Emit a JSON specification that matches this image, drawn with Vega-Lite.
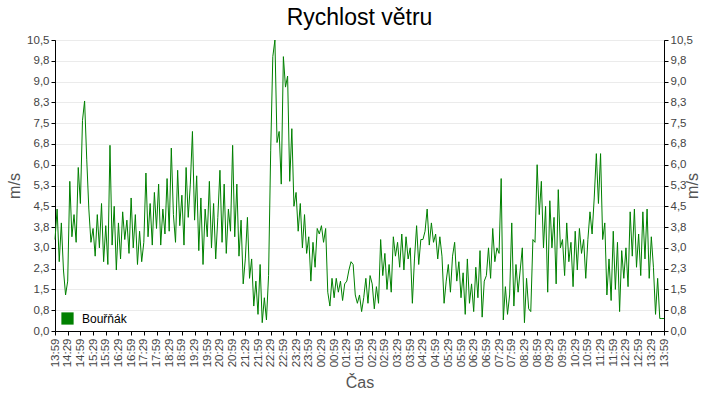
{
  "$schema": "https://vega.github.io/schema/vega-lite/v6.json",
  "description": "Rychlost větru, stanice Bouřňák, 24 hodin",
  "autosize": "none",
  "padding": {"left": 55, "top": 40, "right": 56, "bottom": 69},
  "width": 609,
  "height": 291,
  "title": {
    "text": "Rychlost větru",
    "font": "Liberation Sans",
    "fontSize": 23,
    "fontWeight": "normal",
    "color": "#000",
    "offset": 4
  },
  "data": {
    "values": [
      {"t": "2024-05-01T13:59", "v": 3.3}, {"t": "2024-05-01T14:04", "v": 4.4}, {"t": "2024-05-01T14:09", "v": 2.5}, {"t": "2024-05-01T14:14", "v": 3.9}, {"t": "2024-05-01T14:19", "v": 2.2}, {"t": "2024-05-01T14:24", "v": 1.3},
      {"t": "2024-05-01T14:29", "v": 1.8}, {"t": "2024-05-01T14:34", "v": 5.4}, {"t": "2024-05-01T14:39", "v": 3.4}, {"t": "2024-05-01T14:44", "v": 4.2}, {"t": "2024-05-01T14:49", "v": 3.2}, {"t": "2024-05-01T14:54", "v": 5.9},
      {"t": "2024-05-01T14:59", "v": 4.6}, {"t": "2024-05-01T15:04", "v": 7.6}, {"t": "2024-05-01T15:09", "v": 8.3}, {"t": "2024-05-01T15:14", "v": 6.2}, {"t": "2024-05-01T15:19", "v": 4.4}, {"t": "2024-05-01T15:24", "v": 3.2},
      {"t": "2024-05-01T15:29", "v": 3.7}, {"t": "2024-05-01T15:34", "v": 2.7}, {"t": "2024-05-01T15:39", "v": 4.2}, {"t": "2024-05-01T15:44", "v": 3.0}, {"t": "2024-05-01T15:49", "v": 4.6}, {"t": "2024-05-01T15:54", "v": 2.5},
      {"t": "2024-05-01T15:59", "v": 3.8}, {"t": "2024-05-01T16:04", "v": 2.4}, {"t": "2024-05-01T16:09", "v": 6.7}, {"t": "2024-05-01T16:14", "v": 3.1}, {"t": "2024-05-01T16:19", "v": 4.5}, {"t": "2024-05-01T16:24", "v": 2.2},
      {"t": "2024-05-01T16:29", "v": 3.9}, {"t": "2024-05-01T16:34", "v": 2.6}, {"t": "2024-05-01T16:39", "v": 4.3}, {"t": "2024-05-01T16:44", "v": 3.3}, {"t": "2024-05-01T16:49", "v": 4.0}, {"t": "2024-05-01T16:54", "v": 2.8},
      {"t": "2024-05-01T16:59", "v": 4.8}, {"t": "2024-05-01T17:04", "v": 3.0}, {"t": "2024-05-01T17:09", "v": 4.2}, {"t": "2024-05-01T17:14", "v": 2.4}, {"t": "2024-05-01T17:19", "v": 3.6}, {"t": "2024-05-01T17:24", "v": 2.5},
      {"t": "2024-05-01T17:29", "v": 3.2}, {"t": "2024-05-01T17:34", "v": 5.7}, {"t": "2024-05-01T17:39", "v": 3.4}, {"t": "2024-05-01T17:44", "v": 4.6}, {"t": "2024-05-01T17:49", "v": 3.1}, {"t": "2024-05-01T17:54", "v": 5.0},
      {"t": "2024-05-01T17:59", "v": 3.7}, {"t": "2024-05-01T18:04", "v": 5.3}, {"t": "2024-05-01T18:09", "v": 3.1}, {"t": "2024-05-01T18:14", "v": 4.4}, {"t": "2024-05-01T18:19", "v": 3.5}, {"t": "2024-05-01T18:24", "v": 5.5},
      {"t": "2024-05-01T18:29", "v": 3.6}, {"t": "2024-05-01T18:34", "v": 6.6}, {"t": "2024-05-01T18:39", "v": 4.2}, {"t": "2024-05-01T18:44", "v": 3.2}, {"t": "2024-05-01T18:49", "v": 5.8}, {"t": "2024-05-01T18:54", "v": 3.8},
      {"t": "2024-05-01T18:59", "v": 4.9}, {"t": "2024-05-01T19:04", "v": 3.1}, {"t": "2024-05-01T19:09", "v": 5.9}, {"t": "2024-05-01T19:14", "v": 4.1}, {"t": "2024-05-01T19:19", "v": 5.3}, {"t": "2024-05-01T19:24", "v": 7.2},
      {"t": "2024-05-01T19:29", "v": 4.0}, {"t": "2024-05-01T19:34", "v": 5.6}, {"t": "2024-05-01T19:39", "v": 2.9}, {"t": "2024-05-01T19:44", "v": 4.8}, {"t": "2024-05-01T19:49", "v": 2.4}, {"t": "2024-05-01T19:54", "v": 4.4},
      {"t": "2024-05-01T19:59", "v": 3.4}, {"t": "2024-05-01T20:04", "v": 5.4}, {"t": "2024-05-01T20:09", "v": 3.0}, {"t": "2024-05-01T20:14", "v": 4.6}, {"t": "2024-05-01T20:19", "v": 2.6}, {"t": "2024-05-01T20:24", "v": 4.1},
      {"t": "2024-05-01T20:29", "v": 5.8}, {"t": "2024-05-01T20:34", "v": 3.2}, {"t": "2024-05-01T20:39", "v": 5.3}, {"t": "2024-05-01T20:44", "v": 2.8}, {"t": "2024-05-01T20:49", "v": 4.4}, {"t": "2024-05-01T20:54", "v": 3.6},
      {"t": "2024-05-01T20:59", "v": 6.7}, {"t": "2024-05-01T21:04", "v": 3.4}, {"t": "2024-05-01T21:09", "v": 5.3}, {"t": "2024-05-01T21:14", "v": 2.7}, {"t": "2024-05-01T21:19", "v": 4.0}, {"t": "2024-05-01T21:24", "v": 1.7},
      {"t": "2024-05-01T21:29", "v": 2.6}, {"t": "2024-05-01T21:34", "v": 4.1}, {"t": "2024-05-01T21:39", "v": 1.9}, {"t": "2024-05-01T21:44", "v": 2.6}, {"t": "2024-05-01T21:49", "v": 0.9}, {"t": "2024-05-01T21:54", "v": 1.8},
      {"t": "2024-05-01T21:59", "v": 0.6}, {"t": "2024-05-01T22:04", "v": 2.4}, {"t": "2024-05-01T22:09", "v": 0.3}, {"t": "2024-05-01T22:14", "v": 1.2}, {"t": "2024-05-01T22:19", "v": 0.4}, {"t": "2024-05-01T22:24", "v": 2.0},
      {"t": "2024-05-01T22:29", "v": 6.5}, {"t": "2024-05-01T22:34", "v": 9.9}, {"t": "2024-05-01T22:39", "v": 10.5}, {"t": "2024-05-01T22:44", "v": 6.8}, {"t": "2024-05-01T22:49", "v": 7.2}, {"t": "2024-05-01T22:54", "v": 5.3},
      {"t": "2024-05-01T22:59", "v": 9.9}, {"t": "2024-05-01T23:04", "v": 8.8}, {"t": "2024-05-01T23:09", "v": 9.2}, {"t": "2024-05-01T23:14", "v": 5.4}, {"t": "2024-05-01T23:19", "v": 7.3}, {"t": "2024-05-01T23:24", "v": 4.5},
      {"t": "2024-05-01T23:29", "v": 5.0}, {"t": "2024-05-01T23:34", "v": 3.6}, {"t": "2024-05-01T23:39", "v": 4.6}, {"t": "2024-05-01T23:44", "v": 3.0}, {"t": "2024-05-01T23:49", "v": 4.2}, {"t": "2024-05-01T23:54", "v": 2.8},
      {"t": "2024-05-01T23:59", "v": 3.4}, {"t": "2024-05-02T00:04", "v": 1.8}, {"t": "2024-05-02T00:09", "v": 3.2}, {"t": "2024-05-02T00:14", "v": 2.3}, {"t": "2024-05-02T00:19", "v": 3.7}, {"t": "2024-05-02T00:24", "v": 3.5},
      {"t": "2024-05-02T00:29", "v": 3.8}, {"t": "2024-05-02T00:34", "v": 3.2}, {"t": "2024-05-02T00:39", "v": 3.7}, {"t": "2024-05-02T00:44", "v": 1.4}, {"t": "2024-05-02T00:49", "v": 0.9}, {"t": "2024-05-02T00:54", "v": 1.9},
      {"t": "2024-05-02T00:59", "v": 1.2}, {"t": "2024-05-02T01:04", "v": 1.9}, {"t": "2024-05-02T01:09", "v": 1.4}, {"t": "2024-05-02T01:14", "v": 1.8}, {"t": "2024-05-02T01:19", "v": 1.1}, {"t": "2024-05-02T01:24", "v": 1.7},
      {"t": "2024-05-02T01:29", "v": 1.8}, {"t": "2024-05-02T01:34", "v": 2.2}, {"t": "2024-05-02T01:39", "v": 2.5}, {"t": "2024-05-02T01:44", "v": 2.4}, {"t": "2024-05-02T01:49", "v": 1.3}, {"t": "2024-05-02T01:54", "v": 1.0},
      {"t": "2024-05-02T01:59", "v": 1.3}, {"t": "2024-05-02T02:04", "v": 0.7}, {"t": "2024-05-02T02:09", "v": 1.2}, {"t": "2024-05-02T02:14", "v": 1.9}, {"t": "2024-05-02T02:19", "v": 1.0}, {"t": "2024-05-02T02:24", "v": 2.0},
      {"t": "2024-05-02T02:29", "v": 1.7}, {"t": "2024-05-02T02:34", "v": 0.8}, {"t": "2024-05-02T02:39", "v": 1.6}, {"t": "2024-05-02T02:44", "v": 1.0}, {"t": "2024-05-02T02:49", "v": 3.3}, {"t": "2024-05-02T02:54", "v": 2.0},
      {"t": "2024-05-02T02:59", "v": 2.8}, {"t": "2024-05-02T03:04", "v": 1.5}, {"t": "2024-05-02T03:09", "v": 2.4}, {"t": "2024-05-02T03:14", "v": 1.4}, {"t": "2024-05-02T03:19", "v": 3.4}, {"t": "2024-05-02T03:24", "v": 2.7},
      {"t": "2024-05-02T03:29", "v": 3.2}, {"t": "2024-05-02T03:34", "v": 2.3}, {"t": "2024-05-02T03:39", "v": 3.5}, {"t": "2024-05-02T03:44", "v": 2.2}, {"t": "2024-05-02T03:49", "v": 3.4}, {"t": "2024-05-02T03:54", "v": 2.6},
      {"t": "2024-05-02T03:59", "v": 3.0}, {"t": "2024-05-02T04:04", "v": 1.0}, {"t": "2024-05-02T04:09", "v": 2.6}, {"t": "2024-05-02T04:14", "v": 3.8}, {"t": "2024-05-02T04:19", "v": 2.4}, {"t": "2024-05-02T04:24", "v": 3.3},
      {"t": "2024-05-02T04:29", "v": 3.3}, {"t": "2024-05-02T04:34", "v": 3.6}, {"t": "2024-05-02T04:39", "v": 4.4}, {"t": "2024-05-02T04:44", "v": 3.1}, {"t": "2024-05-02T04:49", "v": 3.9}, {"t": "2024-05-02T04:54", "v": 3.2},
      {"t": "2024-05-02T04:59", "v": 3.5}, {"t": "2024-05-02T05:04", "v": 2.6}, {"t": "2024-05-02T05:09", "v": 3.4}, {"t": "2024-05-02T05:14", "v": 2.7}, {"t": "2024-05-02T05:19", "v": 1.0}, {"t": "2024-05-02T05:24", "v": 1.8},
      {"t": "2024-05-02T05:29", "v": 2.4}, {"t": "2024-05-02T05:34", "v": 1.4}, {"t": "2024-05-02T05:39", "v": 2.7}, {"t": "2024-05-02T05:44", "v": 3.2}, {"t": "2024-05-02T05:49", "v": 1.8}, {"t": "2024-05-02T05:54", "v": 2.5},
      {"t": "2024-05-02T05:59", "v": 1.2}, {"t": "2024-05-02T06:04", "v": 2.1}, {"t": "2024-05-02T06:09", "v": 0.6}, {"t": "2024-05-02T06:14", "v": 2.6}, {"t": "2024-05-02T06:19", "v": 1.0}, {"t": "2024-05-02T06:24", "v": 1.7},
      {"t": "2024-05-02T06:29", "v": 0.7}, {"t": "2024-05-02T06:34", "v": 2.3}, {"t": "2024-05-02T06:39", "v": 1.2}, {"t": "2024-05-02T06:44", "v": 2.9}, {"t": "2024-05-02T06:49", "v": 0.5}, {"t": "2024-05-02T06:54", "v": 1.8},
      {"t": "2024-05-02T06:59", "v": 2.0}, {"t": "2024-05-02T07:04", "v": 3.0}, {"t": "2024-05-02T07:09", "v": 1.9}, {"t": "2024-05-02T07:14", "v": 3.7}, {"t": "2024-05-02T07:19", "v": 2.5}, {"t": "2024-05-02T07:24", "v": 3.0},
      {"t": "2024-05-02T07:29", "v": 2.8}, {"t": "2024-05-02T07:34", "v": 5.5}, {"t": "2024-05-02T07:39", "v": 0.4}, {"t": "2024-05-02T07:44", "v": 1.6}, {"t": "2024-05-02T07:49", "v": 0.6}, {"t": "2024-05-02T07:54", "v": 1.3},
      {"t": "2024-05-02T07:59", "v": 3.9}, {"t": "2024-05-02T08:04", "v": 0.9}, {"t": "2024-05-02T08:09", "v": 2.4}, {"t": "2024-05-02T08:14", "v": 1.4}, {"t": "2024-05-02T08:19", "v": 2.2}, {"t": "2024-05-02T08:24", "v": 3.0},
      {"t": "2024-05-02T08:29", "v": 0.3}, {"t": "2024-05-02T08:34", "v": 1.9}, {"t": "2024-05-02T08:39", "v": 0.8}, {"t": "2024-05-02T08:44", "v": 0.7}, {"t": "2024-05-02T08:49", "v": 3.3}, {"t": "2024-05-02T08:54", "v": 3.2},
      {"t": "2024-05-02T08:59", "v": 6.0}, {"t": "2024-05-02T09:04", "v": 4.2}, {"t": "2024-05-02T09:09", "v": 5.4}, {"t": "2024-05-02T09:14", "v": 3.0}, {"t": "2024-05-02T09:19", "v": 4.5}, {"t": "2024-05-02T09:24", "v": 1.4},
      {"t": "2024-05-02T09:29", "v": 4.7}, {"t": "2024-05-02T09:34", "v": 3.0}, {"t": "2024-05-02T09:39", "v": 4.1}, {"t": "2024-05-02T09:44", "v": 1.7}, {"t": "2024-05-02T09:49", "v": 5.1}, {"t": "2024-05-02T09:54", "v": 3.0},
      {"t": "2024-05-02T09:59", "v": 3.3}, {"t": "2024-05-02T10:04", "v": 2.0}, {"t": "2024-05-02T10:09", "v": 3.9}, {"t": "2024-05-02T10:14", "v": 2.5}, {"t": "2024-05-02T10:19", "v": 3.2}, {"t": "2024-05-02T10:24", "v": 1.6},
      {"t": "2024-05-02T10:29", "v": 3.6}, {"t": "2024-05-02T10:34", "v": 2.2}, {"t": "2024-05-02T10:39", "v": 3.7}, {"t": "2024-05-02T10:44", "v": 2.8}, {"t": "2024-05-02T10:49", "v": 3.3}, {"t": "2024-05-02T10:54", "v": 1.9},
      {"t": "2024-05-02T10:59", "v": 3.3}, {"t": "2024-05-02T11:04", "v": 4.3}, {"t": "2024-05-02T11:09", "v": 3.5}, {"t": "2024-05-02T11:14", "v": 4.8}, {"t": "2024-05-02T11:19", "v": 6.4}, {"t": "2024-05-02T11:24", "v": 4.6},
      {"t": "2024-05-02T11:29", "v": 6.4}, {"t": "2024-05-02T11:34", "v": 3.3}, {"t": "2024-05-02T11:39", "v": 3.9}, {"t": "2024-05-02T11:44", "v": 1.3}, {"t": "2024-05-02T11:49", "v": 2.6}, {"t": "2024-05-02T11:54", "v": 1.1},
      {"t": "2024-05-02T11:59", "v": 3.6}, {"t": "2024-05-02T12:04", "v": 1.5}, {"t": "2024-05-02T12:09", "v": 3.2}, {"t": "2024-05-02T12:14", "v": 0.7}, {"t": "2024-05-02T12:19", "v": 2.9}, {"t": "2024-05-02T12:24", "v": 1.9},
      {"t": "2024-05-02T12:29", "v": 3.0}, {"t": "2024-05-02T12:34", "v": 1.6}, {"t": "2024-05-02T12:39", "v": 4.3}, {"t": "2024-05-02T12:44", "v": 2.7}, {"t": "2024-05-02T12:49", "v": 4.4}, {"t": "2024-05-02T12:54", "v": 2.3},
      {"t": "2024-05-02T12:59", "v": 3.5}, {"t": "2024-05-02T13:04", "v": 2.0}, {"t": "2024-05-02T13:09", "v": 4.3}, {"t": "2024-05-02T13:14", "v": 2.6}, {"t": "2024-05-02T13:19", "v": 4.4}, {"t": "2024-05-02T13:24", "v": 1.9},
      {"t": "2024-05-02T13:29", "v": 3.4}, {"t": "2024-05-02T13:34", "v": 2.3}, {"t": "2024-05-02T13:39", "v": 0.6}, {"t": "2024-05-02T13:44", "v": 1.9}, {"t": "2024-05-02T13:49", "v": 0.45}, {"t": "2024-05-02T13:54", "v": 0.45},
      {"t": "2024-05-02T13:59", "v": 0.45}
    ]
  },
  "encoding": {
    "x": {
      "field": "t",
      "type": "temporal",
      "title": "Čas",
      "scale": {
        "domain": [
          {"year": 2024, "month": 5, "date": 1, "hours": 13, "minutes": 59},
          {"year": 2024, "month": 5, "date": 2, "hours": 13, "minutes": 59}
        ]
      },
      "axis": {
        "format": "%H:%M",
        "labelAngle": 270,
        "labelAlign": "right",
        "labelBaseline": "middle",
        "labelPadding": 3,
        "labelOverlap": false,
        "labelFlush": false,
        "grid": false,
        "titlePadding": 8,
        "values": [
          {"year": 2024, "month": 5, "date": 1, "hours": 13, "minutes": 59},
          {"year": 2024, "month": 5, "date": 1, "hours": 14, "minutes": 29},
          {"year": 2024, "month": 5, "date": 1, "hours": 14, "minutes": 59},
          {"year": 2024, "month": 5, "date": 1, "hours": 15, "minutes": 29},
          {"year": 2024, "month": 5, "date": 1, "hours": 15, "minutes": 59},
          {"year": 2024, "month": 5, "date": 1, "hours": 16, "minutes": 29},
          {"year": 2024, "month": 5, "date": 1, "hours": 16, "minutes": 59},
          {"year": 2024, "month": 5, "date": 1, "hours": 17, "minutes": 29},
          {"year": 2024, "month": 5, "date": 1, "hours": 17, "minutes": 59},
          {"year": 2024, "month": 5, "date": 1, "hours": 18, "minutes": 29},
          {"year": 2024, "month": 5, "date": 1, "hours": 18, "minutes": 59},
          {"year": 2024, "month": 5, "date": 1, "hours": 19, "minutes": 29},
          {"year": 2024, "month": 5, "date": 1, "hours": 19, "minutes": 59},
          {"year": 2024, "month": 5, "date": 1, "hours": 20, "minutes": 29},
          {"year": 2024, "month": 5, "date": 1, "hours": 20, "minutes": 59},
          {"year": 2024, "month": 5, "date": 1, "hours": 21, "minutes": 29},
          {"year": 2024, "month": 5, "date": 1, "hours": 21, "minutes": 59},
          {"year": 2024, "month": 5, "date": 1, "hours": 22, "minutes": 29},
          {"year": 2024, "month": 5, "date": 1, "hours": 22, "minutes": 59},
          {"year": 2024, "month": 5, "date": 1, "hours": 23, "minutes": 29},
          {"year": 2024, "month": 5, "date": 1, "hours": 23, "minutes": 59},
          {"year": 2024, "month": 5, "date": 2, "hours": 0, "minutes": 29},
          {"year": 2024, "month": 5, "date": 2, "hours": 0, "minutes": 59},
          {"year": 2024, "month": 5, "date": 2, "hours": 1, "minutes": 29},
          {"year": 2024, "month": 5, "date": 2, "hours": 1, "minutes": 59},
          {"year": 2024, "month": 5, "date": 2, "hours": 2, "minutes": 29},
          {"year": 2024, "month": 5, "date": 2, "hours": 2, "minutes": 59},
          {"year": 2024, "month": 5, "date": 2, "hours": 3, "minutes": 29},
          {"year": 2024, "month": 5, "date": 2, "hours": 3, "minutes": 59},
          {"year": 2024, "month": 5, "date": 2, "hours": 4, "minutes": 29},
          {"year": 2024, "month": 5, "date": 2, "hours": 4, "minutes": 59},
          {"year": 2024, "month": 5, "date": 2, "hours": 5, "minutes": 29},
          {"year": 2024, "month": 5, "date": 2, "hours": 5, "minutes": 59},
          {"year": 2024, "month": 5, "date": 2, "hours": 6, "minutes": 29},
          {"year": 2024, "month": 5, "date": 2, "hours": 6, "minutes": 59},
          {"year": 2024, "month": 5, "date": 2, "hours": 7, "minutes": 29},
          {"year": 2024, "month": 5, "date": 2, "hours": 7, "minutes": 59},
          {"year": 2024, "month": 5, "date": 2, "hours": 8, "minutes": 29},
          {"year": 2024, "month": 5, "date": 2, "hours": 8, "minutes": 59},
          {"year": 2024, "month": 5, "date": 2, "hours": 9, "minutes": 29},
          {"year": 2024, "month": 5, "date": 2, "hours": 9, "minutes": 59},
          {"year": 2024, "month": 5, "date": 2, "hours": 10, "minutes": 29},
          {"year": 2024, "month": 5, "date": 2, "hours": 10, "minutes": 59},
          {"year": 2024, "month": 5, "date": 2, "hours": 11, "minutes": 29},
          {"year": 2024, "month": 5, "date": 2, "hours": 11, "minutes": 59},
          {"year": 2024, "month": 5, "date": 2, "hours": 12, "minutes": 29},
          {"year": 2024, "month": 5, "date": 2, "hours": 12, "minutes": 59},
          {"year": 2024, "month": 5, "date": 2, "hours": 13, "minutes": 29},
          {"year": 2024, "month": 5, "date": 2, "hours": 13, "minutes": 59}
        ]
      }
    }
  },
  "layer": [
    {
      "mark": {"type": "line", "interpolate": "linear", "strokeWidth": 1, "color": "#008000"},
      "encoding": {
        "y": {
          "field": "v",
          "type": "quantitative",
          "title": "m/s",
          "scale": {"domain": [0, 10.5], "nice": false},
          "axis": {
            "orient": "left",
            "values": [0, 0.75, 1.5, 2.25, 3, 3.75, 4.5, 5.25, 6, 6.75, 7.5, 8.25, 9, 9.75, 10.5],
            "labelExpr": "replace(format(datum.value, '.1f'), '.', ',')",
            "grid": true,
            "titlePadding": 4
          }
        },
        "color": {
          "datum": "Bouřňák",
          "type": "nominal",
          "scale": {"range": ["#008000"]},
          "legend": {
            "title": null,
            "orient": "bottom-left",
            "offset": 6,
            "symbolType": "square",
            "symbolSize": 150,
            "symbolFillColor": "#008000",
            "symbolStrokeWidth": 0,
            "labelFont": "Liberation Sans",
            "labelFontSize": 12,
            "labelColor": "#000",
            "labelOffset": 8,
            "padding": 0
          }
        }
      }
    },
    {
      "mark": {"type": "line", "interpolate": "linear", "strokeWidth": 1, "color": "#008000", "opacity": 0},
      "encoding": {
        "y": {
          "field": "v",
          "type": "quantitative",
          "title": "m/s",
          "scale": {"domain": [0, 10.5], "nice": false},
          "axis": {
            "orient": "right",
            "values": [0, 0.75, 1.5, 2.25, 3, 3.75, 4.5, 5.25, 6, 6.75, 7.5, 8.25, 9, 9.75, 10.5],
            "labelExpr": "replace(format(datum.value, '.1f'), '.', ',')",
            "grid": false,
            "titlePadding": 8
          }
        }
      }
    }
  ],
  "resolve": {"scale": {"y": "independent"}},
  "config": {
    "view": {"stroke": "#000", "strokeWidth": 1},
    "axis": {
      "labelFont": "Liberation Sans",
      "labelFontSize": 11.5,
      "labelColor": "#444",
      "titleFont": "Liberation Sans",
      "titleFontSize": 16,
      "titleFontWeight": "normal",
      "titleColor": "#555",
      "domainColor": "#000",
      "tickColor": "#000",
      "tickSize": 4,
      "labelPadding": 2,
      "gridColor": "#ebebeb",
      "gridWidth": 1
    },
    "axisY": {"titleAngle": 270}
  }
}
